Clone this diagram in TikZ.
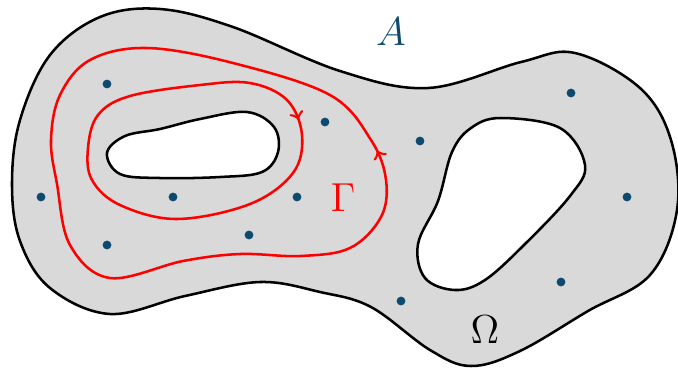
\documentclass[tikz,border=0pt]{standalone}
\usepackage{amsmath,amssymb}
\usepackage{tikz}
\usepackage{xcolor}
\usetikzlibrary{decorations.markings}
\definecolor{ptblue}{RGB}{14,74,112}

\begin{document}
\begin{tikzpicture}[x=0.0125cm, y=-0.0125cm,
  region/.style={draw=black, line width=0.9pt, fill=black!15, even odd rule},
  gammaline/.style={draw=red, line width=0.9pt, postaction={decorate}},
  pt/.style={circle, fill=ptblue, inner sep=0pt, minimum size=0.11cm},
  lbl/.style={font=\Large}]
\useasboundingbox (0,0) rectangle (678,368);
% domain with two holes
\filldraw[region]
  plot[smooth cycle, tension=0.6] coordinates {(12,184) (20,120) (50,55) (100,17) (160,9) (233,27) (340,71) (428,88) (521,62) (575,53) (640,88) (671,140) (677,210) (650,275) (588,311) (520,351) (471,366) (430,350) (371,307) (320,292) (260,282) (185,296) (110,314) (50,288) (20,241)}
  plot[smooth cycle, tension=0.6] coordinates {(107,153) (125,136) (160,129) (200,119) (247,112) (274,127) (278,152) (262,172) (220,177) (160,178) (120,174)}
  plot[smooth cycle, tension=0.6] coordinates {(501,118) (560,128) (585,165) (570,196) (525,244) (485,280) (455,290) (425,278) (418,244) (438,201) (452,152) (471,128)};
% the cycle Gamma
\draw[gammaline, decoration={markings, mark=at position 0.44 with {\arrow{>}}}]
  plot[smooth cycle, tension=0.6] coordinates {(57,184) (70,245) (110,278) (183,261) (240,254) (300,256) (350,248) (381,217) (386,180) (371,140) (330,95) (233,63) (147,48) (90,60) (60,95) (51,140)};
\draw[gammaline, decoration={markings, mark=at position 0.39 with {\arrow{>}}}]
  plot[smooth cycle, tension=0.6] coordinates {(88,148) (98,115) (130,96) (200,85) (250,83) (287,100) (302,135) (293,173) (250,204) (177,219) (120,205) (92,180)};
% points of A
\foreach \i/\c in {1/{(107,84)}, 2/{(325,122)}, 3/{(420,141)}, 4/{(571,93)}, 5/{(41,197)}, 6/{(173,197)}, 7/{(297,197)}, 8/{(107,245)}, 9/{(249,235)}, 10/{(627,197)}, 11/{(561,282)}, 12/{(401,301)}}
  \node[pt] (p\i) at \c {};
\node[lbl, text=ptblue] (A) at (391,32) {$A$};
\node[lbl, text=red] (G) at (343,198) {$\Gamma$};
\node[lbl] (O) at (485,330) {$\Omega$};
\end{tikzpicture}
\end{document}
